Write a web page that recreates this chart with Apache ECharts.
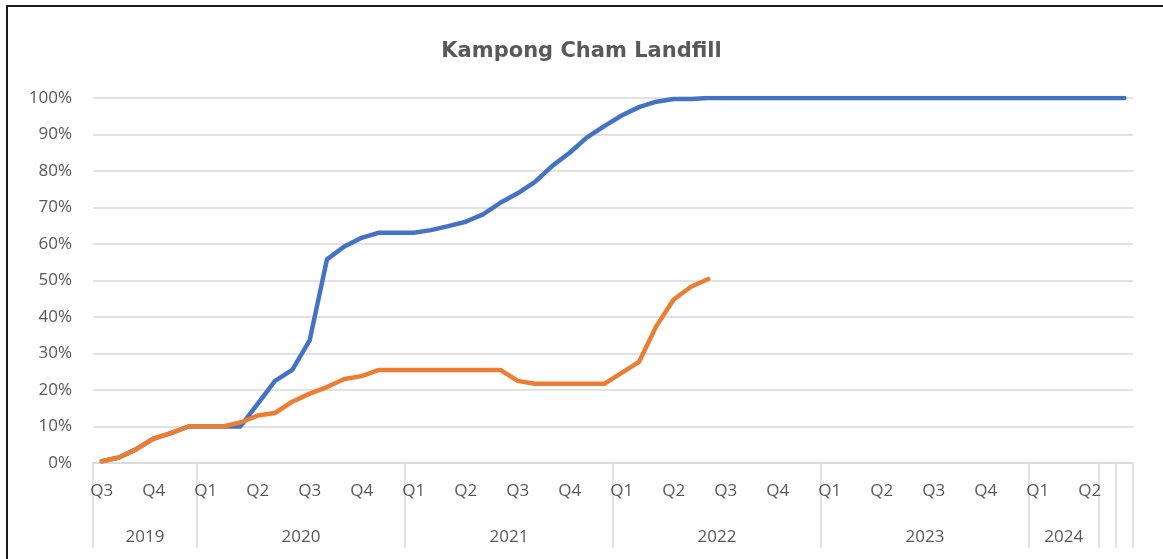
<!DOCTYPE html>
<html>
<head>
<meta charset="utf-8">
<script src="https://cdn.jsdelivr.net/npm/echarts@6/dist/echarts.min.js"></script>
<style>
  body { margin: 0; background: #fff; }
  #wrap { position: relative; width: 1163px; height: 559px; }
  #landfillChart { width: 1163px; height: 559px; }
  #frame {
    position: absolute; left: 6px; top: 5px; right: 0; bottom: 0;
    border-left: 2px solid #1a1a1a; border-top: 2px solid #1a1a1a;
    pointer-events: none;
  }
</style>
</head>
<body>
<div id="wrap">
  <div id="landfillChart"></div>
  <div id="frame"></div>
</div>
<script>
// year groups on the x axis and how many monthly points each one holds
var yearLabels = ['2019', '2020', '2021', '2022', '2023', '2024', '', ''];
var monthsPerYear = [6, 12, 12, 12, 12, 4, 1, 1];
var firstMonth = [7, 1, 1, 1, 1, 1, 0, 0]; // 0 = no quarter labels

// cumulative progress, %
var blueValues = [0.5, 1.5, 3.8, 6.7, 8.2, 10, 10, 10, 10, 16.2, 22.5, 25.5,
  33.6, 55.8, 59.3, 61.7, 63.1, 63.1, 63.1, 63.8, 64.9, 66.1, 68.1, 71.3,
  73.9, 77, 81.4, 85, 89.2, 92.3, 95.2, 97.5, 99, 99.7, 99.7, 100,
  100, 100, 100, 100, 100, 100, 100, 100, 100, 100, 100, 100,
  100, 100, 100, 100, 100, 100, 100, 100, 100, 100, 100, 100];
var orangeValues = [0.5, 1.5, 3.8, 6.7, 8.2, 10, 10, 10, 11.1, 13, 13.7, 16.8,
  19, 20.8, 23, 23.8, 25.5, 25.5, 25.5, 25.5, 25.5, 25.5, 25.5, 25.5,
  22.5, 21.7, 21.7, 21.7, 21.7, 21.7, 24.7, 27.7, 37.5, 44.8, 48.3, 50.4];

var yTicks = [0, 10, 20, 30, 40, 50, 60, 70, 80, 90, 100];

// build monthly categories, quarter labels, group boundaries and centres
var categories = [];
var quarterLabels = [];
var groupStarts = {};
var yearCentres = {};
var pos = 0;
yearLabels.forEach(function (y, g) {
  groupStarts[pos] = true;
  yearCentres[pos + monthsPerYear[g] / 2] = y;
  for (var m = 0; m < monthsPerYear[g]; m++) {
    var month = firstMonth[g] ? firstMonth[g] + m : 0;
    categories.push(y + '-' + (g + '.' + m));
    quarterLabels.push(month && (month - 1) % 3 === 0 ? 'Q' + ((month - 1) / 3 + 1) : '');
  }
  pos += monthsPerYear[g];
});
groupStarts[pos] = true;

var textColor = '#595959';
var gridColor = '#d9d9d9';
var font = 'Open Sans';

var myChart = echarts.init(document.getElementById('landfillChart'));
var option = {
  backgroundColor: '#fff',
  animation: false,
  title: {
    text: 'Kampong Cham Landfill',
    left: 'center',
    top: 36,
    textStyle: { fontFamily: 'DejaVu Sans', fontSize: 21, fontWeight: 'bold', color: textColor }
  },
  grid: { left: 93, right: 30, top: 98, bottom: 96 },
  xAxis: [
    {
      type: 'category',
      data: categories,
      boundaryGap: true,
      axisLine: { lineStyle: { color: gridColor, width: 1.5 } },
      axisTick: { show: false },
      axisLabel: {
        interval: 0,
        margin: 20,
        fontFamily: font, fontSize: 17, color: textColor,
        formatter: function (v, i) { return quarterLabels[i]; }
      }
    },
    {
      type: 'category',
      data: categories,
      position: 'bottom',
      boundaryGap: true,
      axisLine: { show: false },
      axisTick: {
        show: true,
        length: 85,
        interval: function (i) { return !!groupStarts[i]; },
        lineStyle: { color: gridColor, width: 1.5 }
      },
      axisLabel: { show: false }
    },
    {
      type: 'value',
      min: 0,
      max: categories.length,
      interval: 1,
      position: 'bottom',
      axisLine: { show: false },
      axisTick: { show: false },
      splitLine: { show: false },
      axisLabel: {
        margin: 66,
        fontFamily: font, fontSize: 17, color: textColor,
        formatter: function (v) { return yearCentres[v] || ''; }
      }
    }
  ],
  yAxis: {
    type: 'value',
    min: yTicks[0],
    max: yTicks[yTicks.length - 1],
    interval: yTicks[1] - yTicks[0],
    axisLine: { show: false },
    axisTick: { show: false },
    axisLabel: { margin: 21, fontFamily: font, fontSize: 17, color: textColor, formatter: '{value}%' },
    splitLine: { lineStyle: { color: gridColor, width: 1.5 } }
  },
  series: [
    {
      name: 'blue',
      type: 'line',
      data: blueValues,
      showSymbol: false,
      lineStyle: { color: '#4472c4', width: 4.5, cap: 'round', join: 'round' },
      itemStyle: { color: '#4472c4' },
      z: 2
    },
    {
      name: 'orange',
      type: 'line',
      data: orangeValues,
      showSymbol: false,
      lineStyle: { color: '#ed7d31', width: 4.5, cap: 'round', join: 'round' },
      itemStyle: { color: '#ed7d31' },
      z: 3
    }
  ]
};
myChart.setOption(option);
</script>
</body>
</html>
